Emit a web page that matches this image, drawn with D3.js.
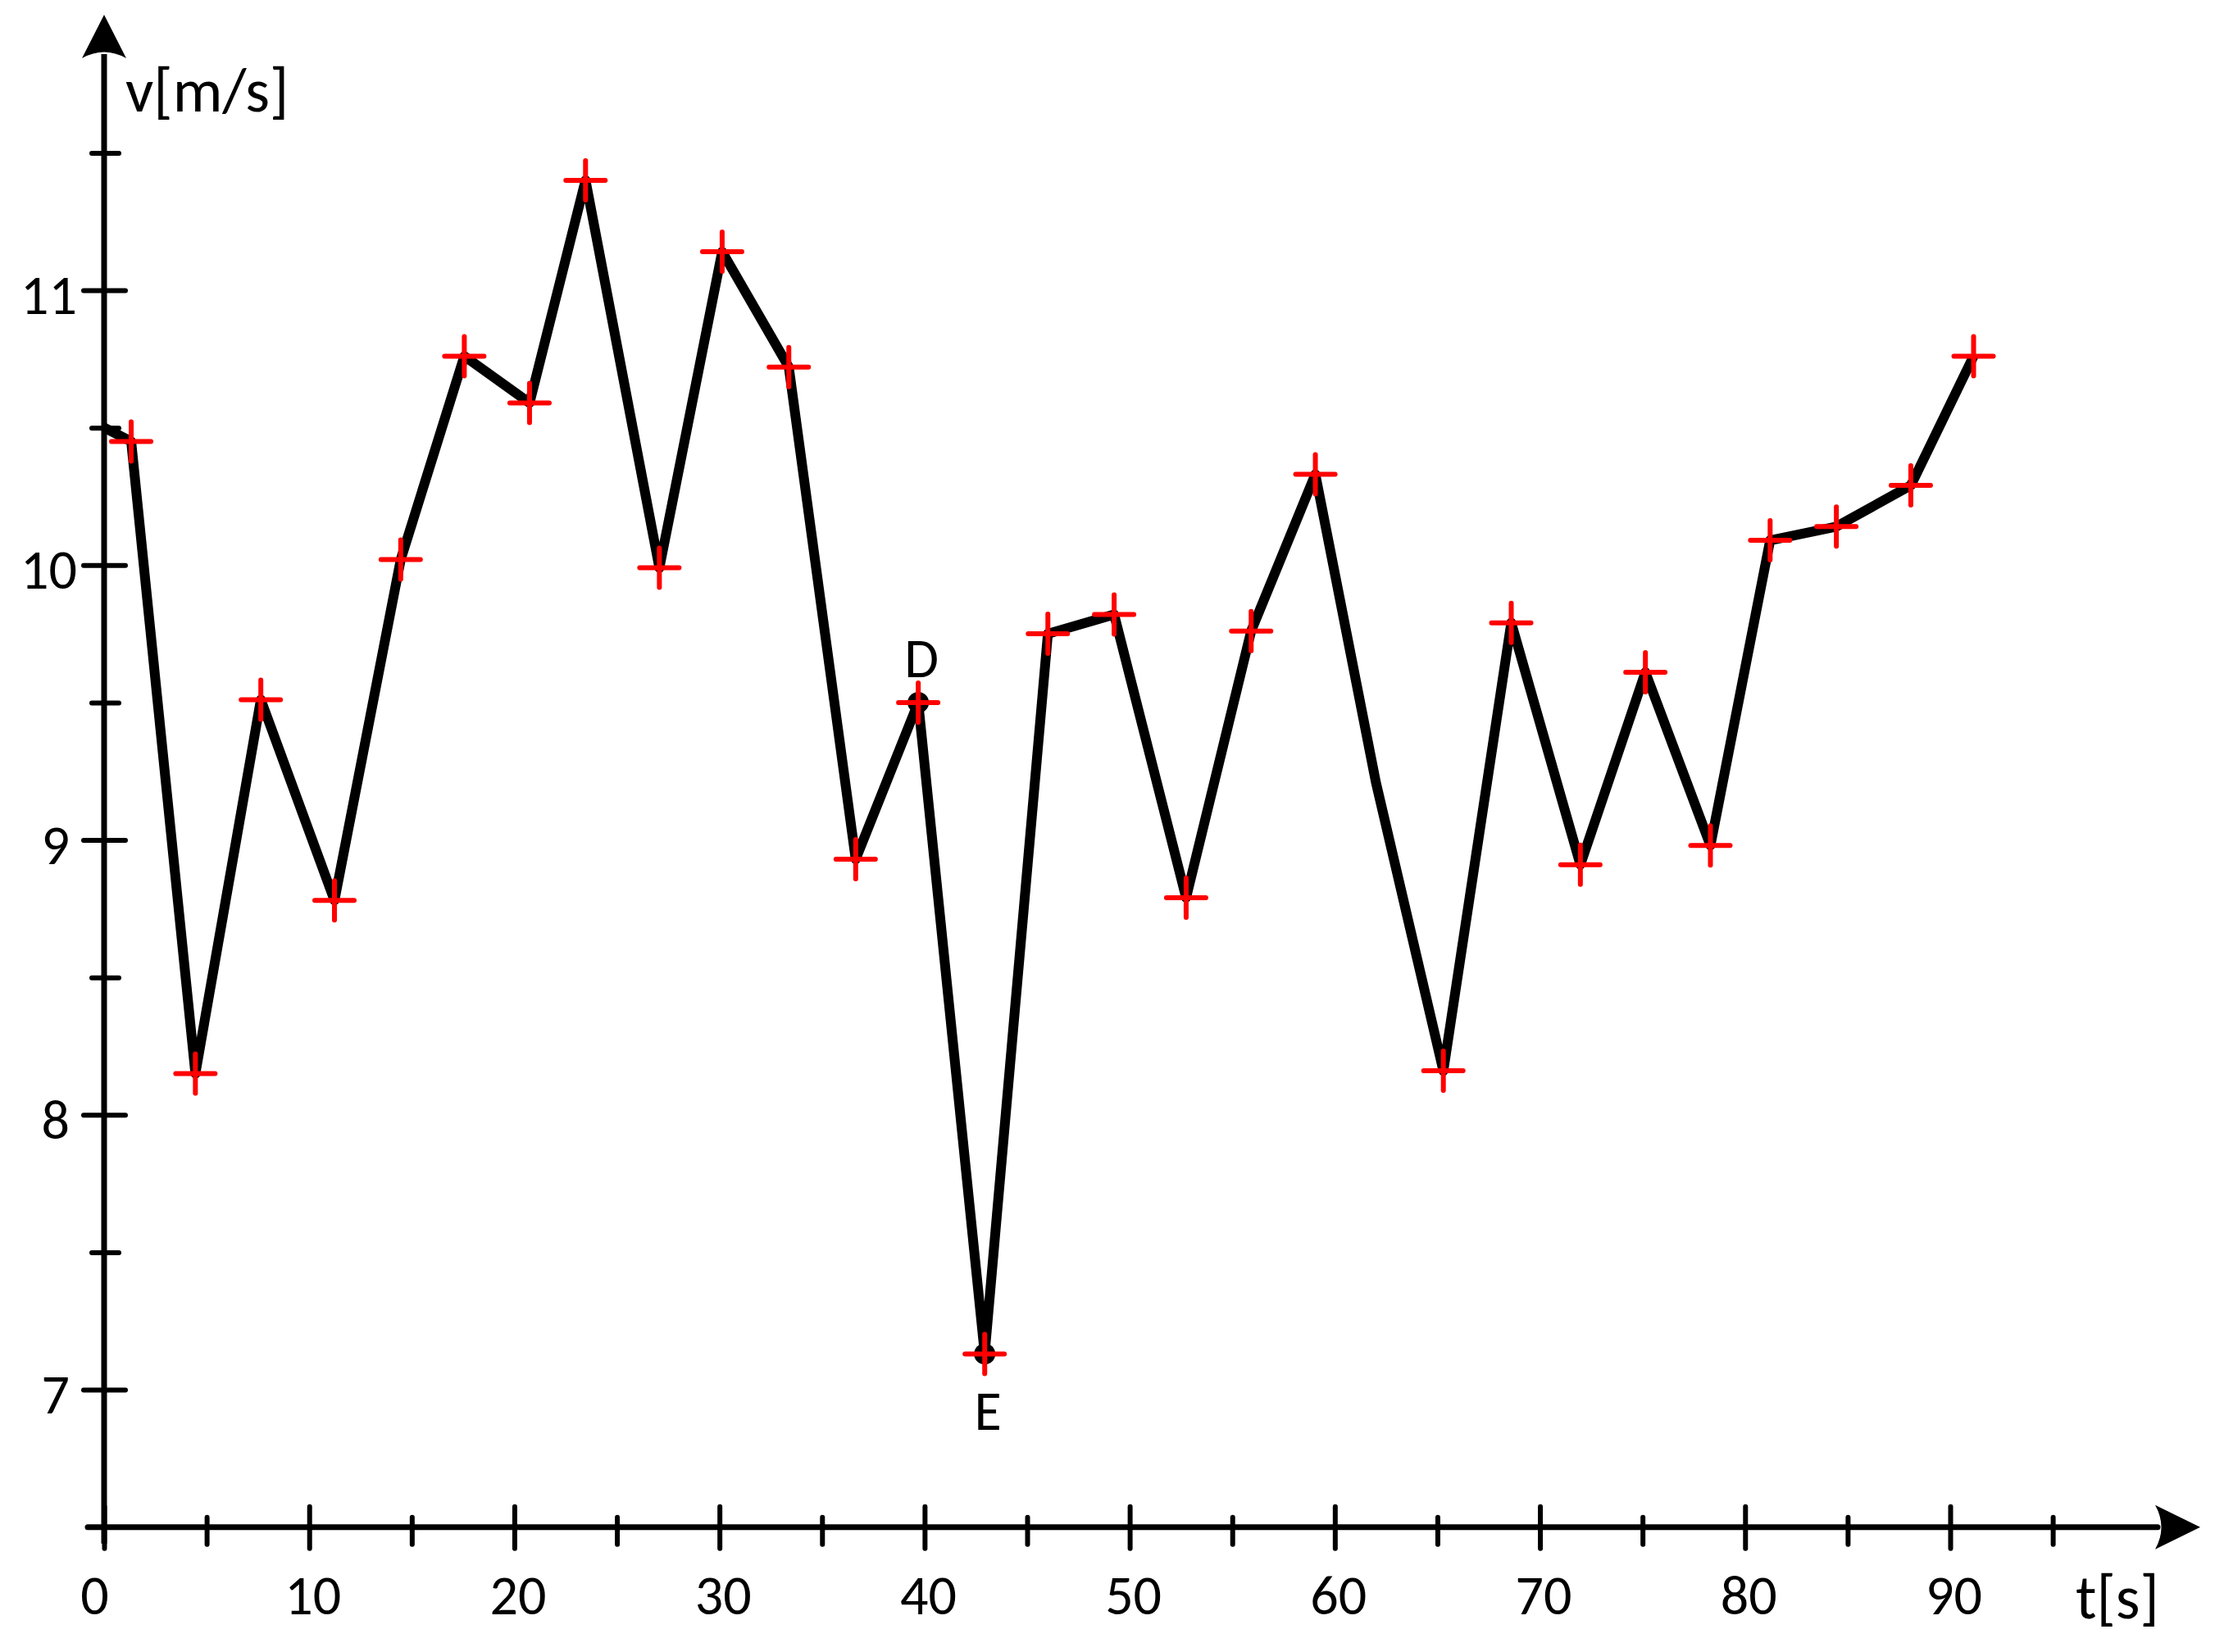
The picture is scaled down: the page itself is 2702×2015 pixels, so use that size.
<!DOCTYPE html>
<html>
<head>
<meta charset="utf-8">
<script src="https://cdn.jsdelivr.net/npm/d3@7"></script>
<style>
  html, body { margin: 0; padding: 0; background: #fff; }
  svg { display: block; }
  text { font-family: Carlito, Calibri, Lato, "Open Sans", sans-serif; fill: #000; }
</style>
</head>
<body>
<svg id="chart" width="2702" height="2015"></svg>
<script>
// ---- data ----
const timeS = [0, 1.32, 4.45, 7.64, 11.23, 14.46, 17.56, 20.74, 23.47, 27.07, 30.13, 33.38, 36.64, 39.69, 42.93, 46.01, 49.24, 52.75, 55.92, 59.05, 62.0, 65.29, 68.60, 71.97, 75.14, 78.31, 81.22, 84.45, 88.08, 91.14];
const speedMs = [10.5, 10.45, 8.15, 9.51, 8.78, 10.02, 10.76, 10.59, 11.40, 9.99, 11.14, 10.72, 8.93, 9.50, 7.13, 9.75, 9.82, 8.79, 9.76, 10.33, 9.21, 8.16, 9.79, 8.91, 9.61, 8.98, 10.09, 10.14, 10.29, 10.76];
// indices of line vertices that carry no red cross
const unmarked = [0, 20];
// labelled points
const namedPoints = [{ name: "D", t: 39.69, v: 9.50, pos: "above" }, { name: "E", t: 42.93, v: 7.13, pos: "below" }];
const xMajorTicks = [0, 10, 20, 30, 40, 50, 60, 70, 80, 90];
const xMinorTicks = [5, 15, 25, 35, 45, 55, 65, 75, 85, 95];
const yMajorTicks = [7, 8, 9, 10, 11];
const yMinorTicks = [7.5, 8.5, 9.5, 10.5, 11.5];
const xTitle = "t[s]";
const yTitle = "v[m/s]";

// ---- layout ----
const svg = d3.select("#chart");
const x = d3.scaleLinear().domain([0, 90]).range([127, 2379]);
const y = d3.scaleLinear().domain([7, 11]).range([1695, 354]);
const x0 = x(0), yBase = y(6.5);
const FS = 68;
const TFS = 76;

// axis lines
const axisG = svg.append("g");
axisG.append("line").attr("x1", x0 - 20).attr("x2", 2632).attr("y1", yBase).attr("y2", yBase)
  .attr("stroke", "#000").attr("stroke-width", 7).attr("stroke-linecap", "round");
axisG.append("line").attr("x1", x0).attr("x2", x0).attr("y1", yBase + 20).attr("y2", 66)
  .attr("stroke", "#000").attr("stroke-width", 7);
// arrowheads
axisG.append("path").attr("fill", "#000")
  .attr("d", `M${x0},18 L${x0 + 27},71 Q${x0},56 ${x0 - 27},71 Z`);
axisG.append("path").attr("fill", "#000")
  .attr("d", `M2684,${yBase} L2629,${yBase + 27} Q2644,${yBase} 2629,${yBase - 27} Z`);

// x axis (major)
const gx = svg.append("g").attr("transform", `translate(0,${yBase})`)
  .call(d3.axisBottom(x).tickValues(xMajorTicks).tickFormat(d3.format("d")).tickSize(26).tickPadding(32));
gx.select(".domain").remove();
gx.selectAll(".tick line").attr("y1", -25).attr("stroke", "#000").attr("stroke-width", 6).attr("stroke-linecap", "round");
gx.selectAll(".tick text").attr("font-size", FS).attr("font-family", null)
  .attr("dx", d => d === 0 ? -12 : 4);
// x axis (minor)
const gxm = svg.append("g").attr("transform", `translate(0,${yBase})`)
  .call(d3.axisBottom(x).tickValues(xMinorTicks).tickFormat("").tickSize(21));
gxm.select(".domain").remove();
gxm.selectAll(".tick line").attr("y1", -12).attr("stroke", "#000").attr("stroke-width", 6).attr("stroke-linecap", "round");

// y axis (major)
const gy = svg.append("g").attr("transform", `translate(${x0},0)`)
  .call(d3.axisLeft(y).tickValues(yMajorTicks).tickFormat(d3.format("d")).tickSize(25).tickPadding(8));
gy.select(".domain").remove();
gy.selectAll(".tick line").attr("x1", 26).attr("stroke", "#000").attr("stroke-width", 6).attr("stroke-linecap", "round");
gy.selectAll(".tick text").attr("font-size", FS).attr("font-family", null).attr("dy", "0.42em")
  .attr("dx", d => String(d).length === 1 ? -9 : 0);
// y axis (minor)
const gym = svg.append("g").attr("transform", `translate(${x0},0)`)
  .call(d3.axisLeft(y).tickValues(yMinorTicks).tickFormat("").tickSize(15));
gym.select(".domain").remove();
gym.selectAll(".tick line").attr("x1", 18).attr("stroke", "#000").attr("stroke-width", 6).attr("stroke-linecap", "round");

// axis titles
svg.append("text").attr("x", 153).attr("y", 136).attr("font-size", TFS).text(yTitle);
svg.append("text").attr("x", 2532).attr("y", 1974).attr("font-size", TFS).text(xTitle);

// data line
const pts = timeS.map((t, i) => ({ t, v: speedMs[i], i }));
const line = d3.line().x(d => x(d.t)).y(d => y(d.v));
svg.append("path").datum(pts).attr("d", line)
  .attr("fill", "none").attr("stroke", "#000").attr("stroke-width", 12)
  .attr("stroke-linejoin", "round").attr("stroke-linecap", "butt");

// dots at named points
svg.selectAll("circle.named").data(namedPoints).join("circle")
  .attr("cx", d => x(d.t)).attr("cy", d => y(d.v)).attr("r", 13).attr("fill", "#000");

// red crosses
const marks = pts.filter(d => !unmarked.includes(d.i));
const cross = svg.append("g").attr("stroke", "#ff0000").attr("stroke-width", 6).attr("stroke-linecap", "round");
cross.selectAll("line.h").data(marks).join("line")
  .attr("x1", d => x(d.t) - 24).attr("x2", d => x(d.t) + 24)
  .attr("y1", d => y(d.v)).attr("y2", d => y(d.v));
cross.selectAll("line.v").data(marks).join("line")
  .attr("x1", d => x(d.t)).attr("x2", d => x(d.t))
  .attr("y1", d => y(d.v) - 24).attr("y2", d => y(d.v) + 24);

// point labels
svg.selectAll("text.named").data(namedPoints).join("text")
  .attr("x", d => x(d.t) + 4)
  .attr("y", d => d.pos === "above" ? y(d.v) - 31 : y(d.v) + 93)
  .attr("text-anchor", "middle").attr("font-size", FS).text(d => d.name);
</script>
</body>
</html>
